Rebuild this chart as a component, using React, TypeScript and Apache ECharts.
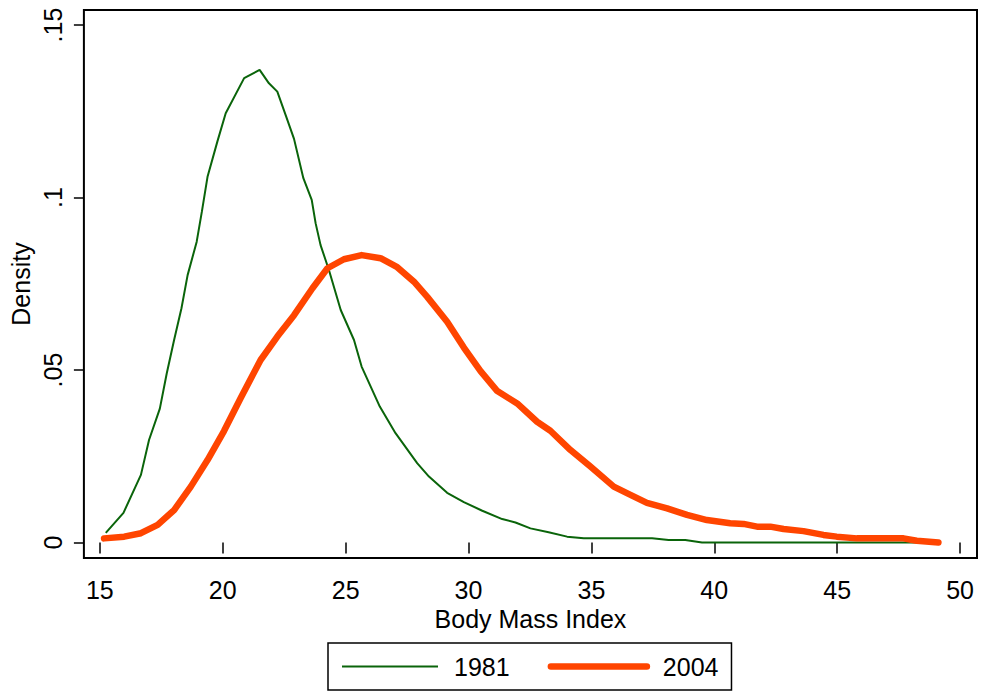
import React, { useEffect, useRef } from "react";
import * as echarts from "echarts";

const bmi1981 = [15.24, 15.96, 16.67, 17.0, 17.44, 17.72, 18.02, 18.32, 18.57, 18.94, 19.15, 19.38, 19.78, 20.12, 20.87, 21.5, 21.88, 22.22, 22.56, 22.9, 23.28, 23.62, 23.78, 23.98, 24.32, 24.8, 25.34, 25.65, 26.39, 27.03, 27.91, 28.39, 29.13, 29.81, 30.56, 31.37, 31.91, 32.52, 33.26, 34.01, 34.69, 37.47, 38.14, 38.82, 39.5, 40.65, 44.0, 48.6];
const dens1981 = [0.0028, 0.0086, 0.0196, 0.0297, 0.0388, 0.049, 0.0587, 0.0679, 0.0775, 0.0872, 0.0959, 0.106, 0.1162, 0.1244, 0.1346, 0.137, 0.1331, 0.1307, 0.1239, 0.117, 0.1056, 0.0993, 0.0925, 0.0862, 0.079, 0.0674, 0.0587, 0.051, 0.0394, 0.0317, 0.023, 0.0191, 0.0144, 0.0117, 0.0092, 0.0068, 0.0058, 0.0041, 0.003, 0.0017, 0.0012, 0.0012, 0.0007, 0.0007, 0.0, 0.0, 0.0, 0.0];

const bmi2004 = [15.17, 15.99, 16.67, 17.35, 18.02, 18.7, 19.38, 20.05, 20.73, 21.54, 22.22, 22.9, 23.65, 24.26, 24.93, 25.65, 26.42, 27.1, 27.78, 28.32, 29.13, 29.81, 30.49, 31.17, 31.98, 32.79, 33.33, 34.15, 34.96, 35.91, 36.59, 37.26, 38.08, 38.89, 39.7, 40.65, 41.19, 41.74, 42.28, 42.82, 43.63, 44.44, 44.98, 45.8, 47.7, 48.24, 49.12];
const dens2004 = [0.0012, 0.0017, 0.0027, 0.0051, 0.0094, 0.0162, 0.0239, 0.0323, 0.0419, 0.0529, 0.0597, 0.0659, 0.0737, 0.0795, 0.0821, 0.0833, 0.0824, 0.0798, 0.0756, 0.0712, 0.064, 0.0565, 0.0497, 0.0439, 0.0403, 0.035, 0.0324, 0.0268, 0.022, 0.0162, 0.0138, 0.0115, 0.0099, 0.008, 0.0065, 0.0056, 0.0054, 0.0046, 0.0046, 0.0039, 0.0033, 0.0022, 0.0017, 0.0012, 0.0012, 0.0005, 0.0];

const xTicks = [15, 20, 25, 30, 35, 40, 45, 50];
const yTicks = [0, 0.05, 0.1, 0.15];
const yTickLabels = ["0", ".05", ".1", ".15"];
const seriesNames = ["1981", "2004"];
const xTitle = "Body Mass Index";
const yTitle = "Density";

const GREEN = "#0a640a";
const ORANGE = "#ff4500";
const FONT = "'Liberation Sans', Arial, Helvetica, sans-serif";

export default function App() {
  const ref = useRef<HTMLDivElement>(null);
  useEffect(() => {
    if (!ref.current) return;
    const chart = echarts.init(ref.current, undefined, { renderer: "svg" });
    const pairs = (xs: number[], ys: number[]) => xs.map((x, i) => [x, ys[i]]);
    chart.setOption({
      animation: false,
      backgroundColor: "#ffffff",
      textStyle: { fontFamily: FONT },
      grid: {
        left: 83,
        right: 5,
        top: 10,
        bottom: 135,
        show: true,
        borderColor: "#000",
        borderWidth: 2,
        backgroundColor: "#fff",
      },
      xAxis: {
        type: "value",
        min: 14.35,
        max: 50.69,
        name: xTitle,
        nameLocation: "middle",
        nameGap: 44,
        nameTextStyle: { fontSize: 25, color: "#000", fontFamily: FONT },
        axisLine: { show: false },
        splitLine: { show: false },
        axisTick: {
          show: true,
          length: 11,
          customValues: xTicks,
          lineStyle: { color: "#000", width: 1.5 },
        },
        axisLabel: {
          customValues: xTicks,
          fontSize: 25,
          color: "#000",
          margin: 19,
          fontFamily: FONT,
          formatter: (v: number) => String(v),
        },
      },
      yAxis: {
        type: "value",
        min: -0.00449,
        max: 0.15435,
        name: yTitle,
        nameLocation: "middle",
        nameGap: 41,
        nameRotate: 90,
        nameTextStyle: { fontSize: 25, color: "#000", fontFamily: FONT },
        axisLine: { show: false },
        splitLine: { show: false },
        axisTick: {
          show: true,
          length: 10,
          customValues: yTicks,
          lineStyle: { color: "#000", width: 1.5 },
        },
        axisLabel: {
          customValues: yTicks,
          rotate: 90,
          fontSize: 25,
          color: "#000",
          margin: 18,
          fontFamily: FONT,
          formatter: (v: number) => {
            const i = yTicks.findIndex((t) => Math.abs(t - v) < 1e-9);
            return i >= 0 ? yTickLabels[i] : "";
          },
        },
      },
      legend: {
        data: [
          { name: seriesNames[0], lineStyle: { width: 2, color: GREEN } },
          { name: seriesNames[1], lineStyle: { width: 6.5, color: ORANGE, cap: "round" } },
        ],
        top: 643,
        left: 328,
        orient: "horizontal",
        itemWidth: 96,
        itemHeight: 14,
        itemGap: 38,
        padding: [11, 13, 11, 13],
        borderColor: "#000",
        borderWidth: 1.5,
        backgroundColor: "#fff",
        itemStyle: { opacity: 0, color: "rgba(0,0,0,0)", borderWidth: 0 },
        textStyle: { fontSize: 25, color: "#000", fontFamily: FONT, padding: [0, 0, 0, 11] },
      },
      series: [
        {
          name: seriesNames[0],
          type: "line",
          data: pairs(bmi1981, dens1981),
          symbol: "none",
          smooth: false,
          lineStyle: { color: GREEN, width: 2 },
          itemStyle: { color: GREEN },
        },
        {
          name: seriesNames[1],
          type: "line",
          data: pairs(bmi2004, dens2004),
          symbol: "none",
          smooth: false,
          lineStyle: { color: ORANGE, width: 6.5, cap: "round", join: "round" },
          itemStyle: { color: ORANGE },
        },
      ],
    });
    return () => chart.dispose();
  }, []);
  return (
    <div
      ref={ref}
      style={{ position: "fixed", left: 0, top: 0, width: 982, height: 693 }}
    />
  );
}
